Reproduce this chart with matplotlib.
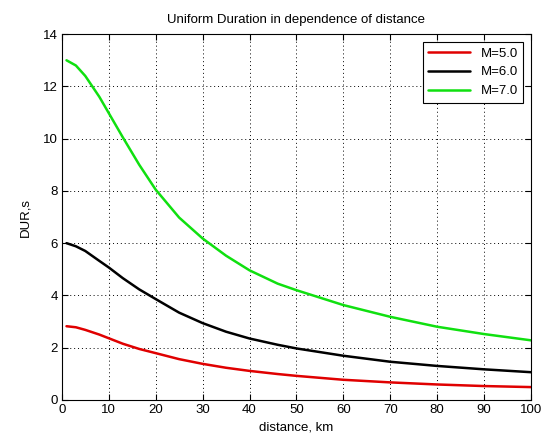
import numpy as np
import matplotlib.pyplot as plt

dist = [1, 3, 5, 8, 10, 13, 16.5, 20, 25, 30, 35, 40, 46, 50, 60, 70, 80, 90, 100]
dur_m5 = [2.82, 2.78, 2.68, 2.50, 2.36, 2.15, 1.95, 1.79, 1.56, 1.38, 1.23, 1.11, 0.99, 0.92,
          0.77, 0.67, 0.59, 0.53, 0.49]
dur_m6 = [6.00, 5.88, 5.70, 5.32, 5.07, 4.66, 4.23, 3.86, 3.34, 2.94, 2.61, 2.35, 2.11, 1.97,
          1.69, 1.46, 1.30, 1.17, 1.06]
dur_m7 = [13.0, 12.8, 12.4, 11.6, 10.98, 10.05, 9.0, 8.05, 6.98, 6.18, 5.52, 4.96, 4.45, 4.2,
          3.63, 3.18, 2.80, 2.52, 2.28]
labels = ['M=5.0', 'M=6.0', 'M=7.0']

plt.rcParams['font.family'] = ['Liberation Sans', 'DejaVu Sans']
plt.rcParams['font.size'] = 9.5

fig = plt.figure(figsize=(5.52, 4.38), dpi=100)
ax = fig.add_axes([0.112, 0.087, 0.850, 0.835])

kw = dict(lw=1.8, solid_joinstyle='round', solid_capstyle='round')
ax.plot(dist, dur_m5, color='#e00000', label=labels[0], **kw)
ax.plot(dist, dur_m6, color='black', label=labels[1], **kw)
ax.plot(dist, dur_m7, color='#10e010', label=labels[2], **kw)

ax.set_xlim(0, 100)
ax.set_ylim(0, 14)
ax.set_xticks(np.arange(0, 101, 10))
ax.set_yticks(np.arange(0, 15, 2))
ax.grid(True, color='black', linestyle=(0, (1, 3)), linewidth=0.7)
ax.tick_params(direction='in', top=True, right=True, length=4, pad=3)

ax.set_title('Uniform Duration in dependence of distance', fontsize=9.5, pad=8)
ax.set_xlabel('distance, km', labelpad=4)
ax.set_ylabel('DUR,s', labelpad=8)

leg = ax.legend(loc='upper right', fancybox=False, edgecolor='black',
                framealpha=1, handlelength=3.2, borderaxespad=0.6)
leg.get_frame().set_linewidth(0.8)

fig.savefig('out.png', dpi=100)
